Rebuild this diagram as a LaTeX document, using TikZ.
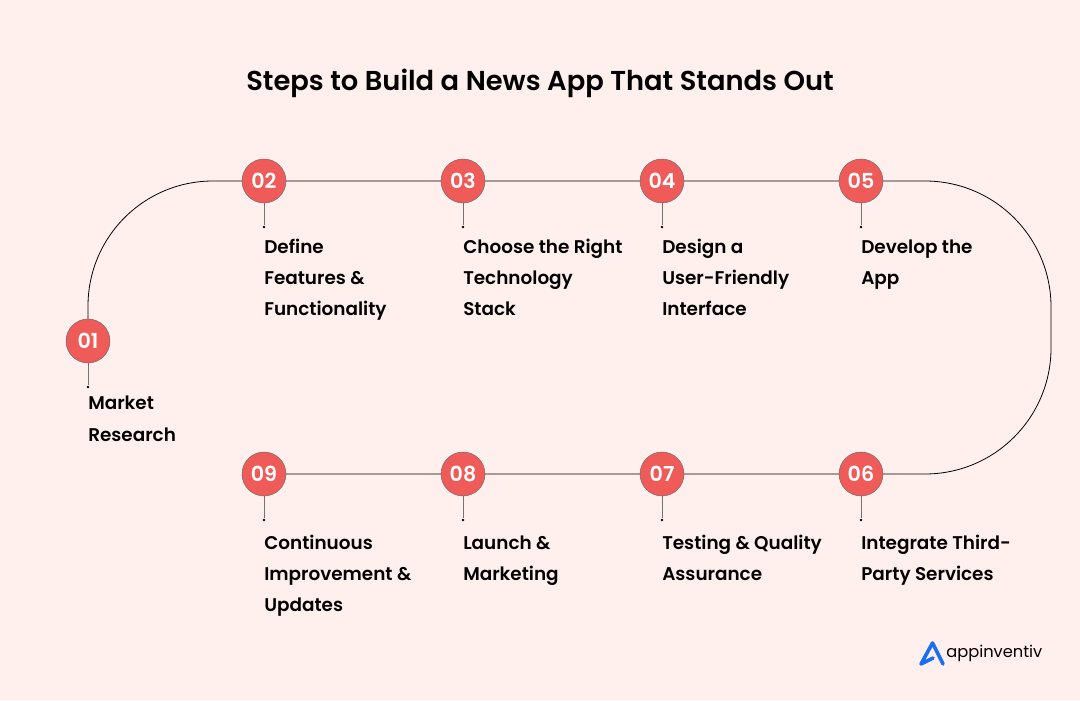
\documentclass[tikz,border=0pt]{standalone}
\usepackage{fontspec}
\setmainfont{Poppins}[BoldFont={Poppins SemiBold}]
\usetikzlibrary{backgrounds}
\definecolor{pagepink}{HTML}{FFF0EE}
\definecolor{stepred}{HTML}{EF5B58}
\definecolor{logoblue}{HTML}{1A6DF5}
\tikzset{
stepdot/.style={circle,draw=black!60,line width=0.3pt,fill=stepred,text=white,minimum size=33pt,inner sep=0pt,font=\fontsize{15.5}{15.5}\selectfont\bfseries},
tick/.style={circle,fill=black,inner sep=0pt,minimum size=2pt},
steplabel/.style={anchor=north west,align=left,inner sep=0pt,font=\fontsize{13.8}{23.25}\selectfont\bfseries}
}
\begin{document}
\begin{tikzpicture}[x=0.75pt,y=0.75pt,node distance=149.25pt]
\useasboundingbox (0,0) rectangle (1080,700);
\node[font=\fontsize{20.5}{24}\selectfont\bfseries] (title) at (540,617) {Steps to Build a News App That Stands Out};

\node[stepdot] (n01) at (88,359) {01};
\node[stepdot] (n02) at (264,519) {02};
\node[stepdot] (n03) [right of=n02] {03};
\node[stepdot] (n04) [right of=n03] {04};
\node[stepdot] (n05) [right of=n04] {05};
\node[stepdot] (n09) at (264,226) {09};
\node[stepdot] (n08) [right of=n09] {08};
\node[stepdot] (n07) [right of=n08] {07};
\node[stepdot] (n06) [right of=n07] {06};

\foreach \n in {01,02,03,04,05,06,07,08,09} {
\node[tick] (d\n) [below of=n\n,node distance=34.5pt] {};
\draw[black!55,line width=0.6pt] (n\n) -- (d\n);
}

\node[steplabel] (t01) at (88,304) {Market\\[0.75pt]Research};
\node[steplabel] (t02) at (264,461) {Define\\Features \&\\Functionality};
\node[steplabel] (t03) at (463,461) {Choose the Right\\Technology\\Stack};
\node[steplabel] (t04) at (662,461) {Design a\\User-Friendly\\Interface};
\node[steplabel] (t05) at (861,460) {Develop the\\App};
\node[steplabel] (t06) at (861,165) {Integrate Third-\\Party Services};
\node[steplabel] (t07) at (662,165) {Testing \& Quality\\Assurance};
\node[steplabel] (t08) at (463,164) {Launch \&\\Marketing};
\node[steplabel] (t09) at (264,165) {Continuous\\Improvement \&\\Updates};

\coordinate (c1) at (925,519);
\coordinate (c2) at (1051,352);

\begin{scope}[on background layer]
\fill[pagepink] (0,0) rectangle (1080,700);
\draw[black,line width=0.6pt] (n01) -- (88,394) arc[start angle=180,end angle=90,radius=125] -- (n02) -- (n03) -- (n04) -- (n05) -- (c1) arc[start angle=90,end angle=0,radius=126] -- (c2) arc[start angle=0,end angle=-90,radius=126] -- (n06) -- (n07) -- (n08) -- (n09);
\end{scope}

% logo
\draw[logoblue,line width=2.7pt,line cap=round,line join=round] (921,36) -- (932.5,57) -- (943,36) (921,36) -- (933,42);
\node[anchor=west,inner sep=0pt,font=\fontsize{12.2}{14}\selectfont] (logo) at (946,47) {appinventiv};
\end{tikzpicture}
\end{document}
